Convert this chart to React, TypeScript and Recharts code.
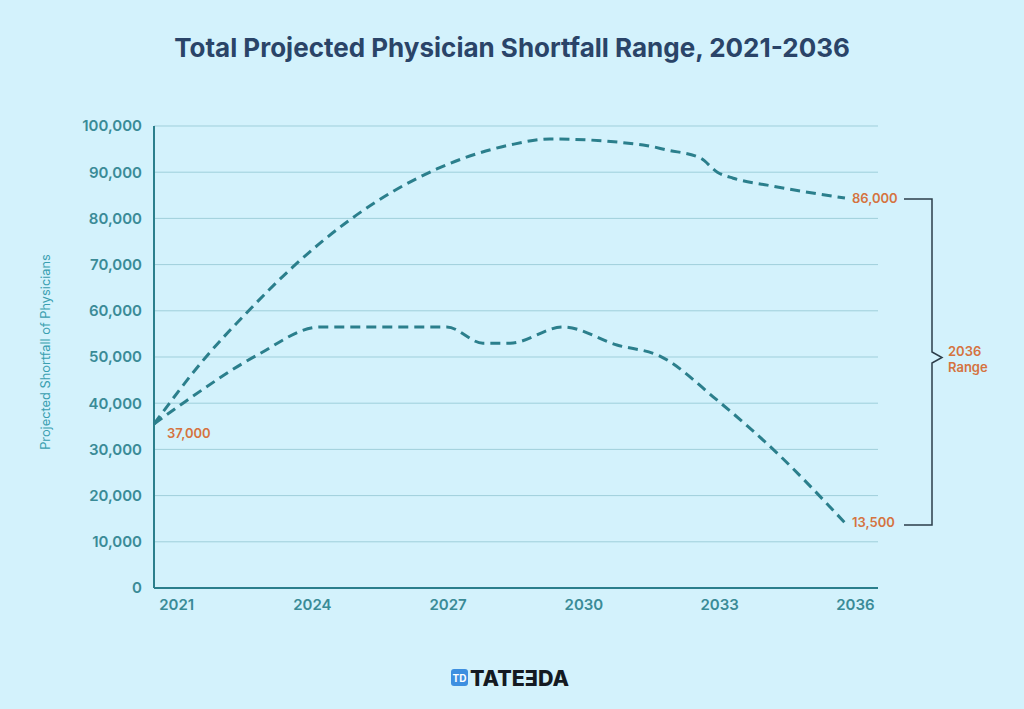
import { CartesianGrid, Line, LineChart, ReferenceDot, XAxis, YAxis } from "recharts";

// year positions (line is drawn slightly off the labels)
const upperYears = [2020.5, 2021.63, 2022.56, 2023.57, 2024.83, 2026.75, 2028.37, 2029.25, 2031.31, 2031.84, 2032.57, 2032.95, 2033.3, 2034.05, 2035.77];
const upperValues = [35500, 49800, 59700, 69500, 79700, 90700, 95900, 97200, 95900, 94800, 93100, 90000, 88700, 87200, 84400];

const lowerYears = [2020.5, 2021.14, 2022.78, 2024.17, 2026.97, 2027.77, 2028.37, 2029.54, 2030.73, 2031.68, 2032.94, 2034.27, 2035.77];
const lowerValues = [35500, 40000, 50400, 56500, 56500, 53000, 53000, 56500, 52600, 50200, 40700, 29200, 14100];

const xTicks = [2021, 2024, 2027, 2030, 2033, 2036];
const yTicks = [0, 10000, 20000, 30000, 40000, 50000, 60000, 70000, 80000, 90000, 100000];

const upperData = upperYears.map((year, i) => ({ year, value: upperValues[i] }));
const lowerData = lowerYears.map((year, i) => ({ year, value: lowerValues[i] }));

const BG = "#d3f2fc";
const TEAL = "#2b7f8c";
const TICK = "#3a8b97";
const ORANGE = "#d5733f";
const FONT = "Inter, 'Noto Sans', sans-serif";

const fmt = (v: number) => v.toLocaleString("en-US");

const endLabel = (text: string) => (props: any) => {
  const vb = props.viewBox || {};
  const cx = (vb.x ?? 0) + (vb.width ?? 0) / 2;
  const cy = (vb.y ?? 0) + (vb.height ?? 0) / 2;
  return (
    <text x={cx + 7} y={cy} dy="0.35em" fill={ORANGE} fontSize={13} fontWeight={600} fontFamily={FONT}>
      {text}
    </text>
  );
};

const startLabel = (text: string) => (props: any) => {
  const vb = props.viewBox || {};
  const cx = (vb.x ?? 0) + (vb.width ?? 0) / 2;
  const cy = (vb.y ?? 0) + (vb.height ?? 0) / 2;
  return (
    <text x={cx + 13} y={cy + 9} dy="0.35em" fill={ORANGE} fontSize={13} fontWeight={600} fontFamily={FONT}>
      {text}
    </text>
  );
};

export default function App() {
  const last = upperData.length - 1;
  const lastLow = lowerData.length - 1;
  return (
    <div style={{ position: "relative", width: 1024, height: 709, background: BG, fontFamily: FONT, overflow: "hidden" }}>
      <style>{"body{margin:0}"}</style>
      <div
        style={{
          position: "absolute",
          top: 32,
          left: 0,
          width: 1024,
          textAlign: "center",
          fontSize: 26,
          fontWeight: 700,
          color: "#2a4468",
        }}
      >
        Total Projected Physician Shortfall Range, 2021-2036
      </div>

      <LineChart width={1024} height={709} margin={{ top: 126, right: 146, bottom: 91, left: 94 }}>
        <CartesianGrid horizontal vertical={false} stroke="#9fcfdb" strokeWidth={1} />
        <XAxis
          type="number"
          dataKey="year"
          domain={[2020.5, 2036.5]}
          ticks={xTicks}
          allowDuplicatedCategory={false}
          axisLine={{ stroke: TEAL, strokeWidth: 2 }}
          tickLine={false}
          tickSize={0}
          tickMargin={11}
          height={30}
          tick={{ fill: TICK, fontSize: 15, fontWeight: 600, fontFamily: FONT }}
        />
        <YAxis
          type="number"
          domain={[0, 100000]}
          ticks={yTicks}
          tickFormatter={fmt}
          width={60}
          axisLine={{ stroke: TEAL, strokeWidth: 2 }}
          tickLine={false}
          tickSize={0}
          tickMargin={12}
          tick={{ fill: TICK, fontSize: 15, fontWeight: 600, fontFamily: FONT }}
        />
        <Line
          data={upperData}
          dataKey="value"
          type="monotone"
          stroke={TEAL}
          strokeWidth={3}
          strokeDasharray="10 6"
          dot={false}
          activeDot={false}
          isAnimationActive={false}
        />
        <Line
          data={lowerData}
          dataKey="value"
          type="monotone"
          stroke={TEAL}
          strokeWidth={3}
          strokeDasharray="10 6"
          dot={false}
          activeDot={false}
          isAnimationActive={false}
        />
        <ReferenceDot
          x={upperData[0].year}
          y={upperData[0].value}
          r={0}
          fill="none"
          stroke="none"
          ifOverflow="visible"
          label={{ content: startLabel("37,000") }}
        />
        <ReferenceDot
          x={upperData[last].year}
          y={upperData[last].value}
          r={0}
          fill="none"
          stroke="none"
          ifOverflow="visible"
          label={{ content: endLabel("86,000") }}
        />
        <ReferenceDot
          x={lowerData[lastLow].year}
          y={lowerData[lastLow].value}
          r={0}
          fill="none"
          stroke="none"
          ifOverflow="visible"
          label={{ content: endLabel("13,500") }}
        />
      </LineChart>

      <svg width={1024} height={709} style={{ position: "absolute", left: 0, top: 0, pointerEvents: "none" }}>
        <text
          x={50}
          y={352}
          transform="rotate(-90 50 352)"
          textAnchor="middle"
          fill="#3a9fb0"
          fontSize={12.8}
          fontFamily={FONT}
        >
          Projected Shortfall of Physicians
        </text>
        <path
          d="M904 199 H932 V352 L942 357.5 L932 363 V525 H904"
          fill="none"
          stroke="#2d3e4a"
          strokeWidth={1.5}
        />
        <text x={948} y={356} fill={ORANGE} fontSize={13} fontWeight={600} fontFamily={FONT}>
          2036
        </text>
        <text x={948} y={372} fill={ORANGE} fontSize={13} fontWeight={600} fontFamily={FONT}>
          Range
        </text>
        <rect x={451} y={669} width={17} height={17} rx={3} fill="#3d8fe0" />
        <text x={459.5} y={681.5} textAnchor="middle" fill="#ffffff" fontSize={10} fontWeight={700} fontFamily={FONT}>
          TD
        </text>
        <text x={470} y={685.5} fill="#141a22" fontSize={21.5} fontWeight={800} fontFamily={FONT}>
          TATEƎDA
        </text>
      </svg>
    </div>
  );
}
